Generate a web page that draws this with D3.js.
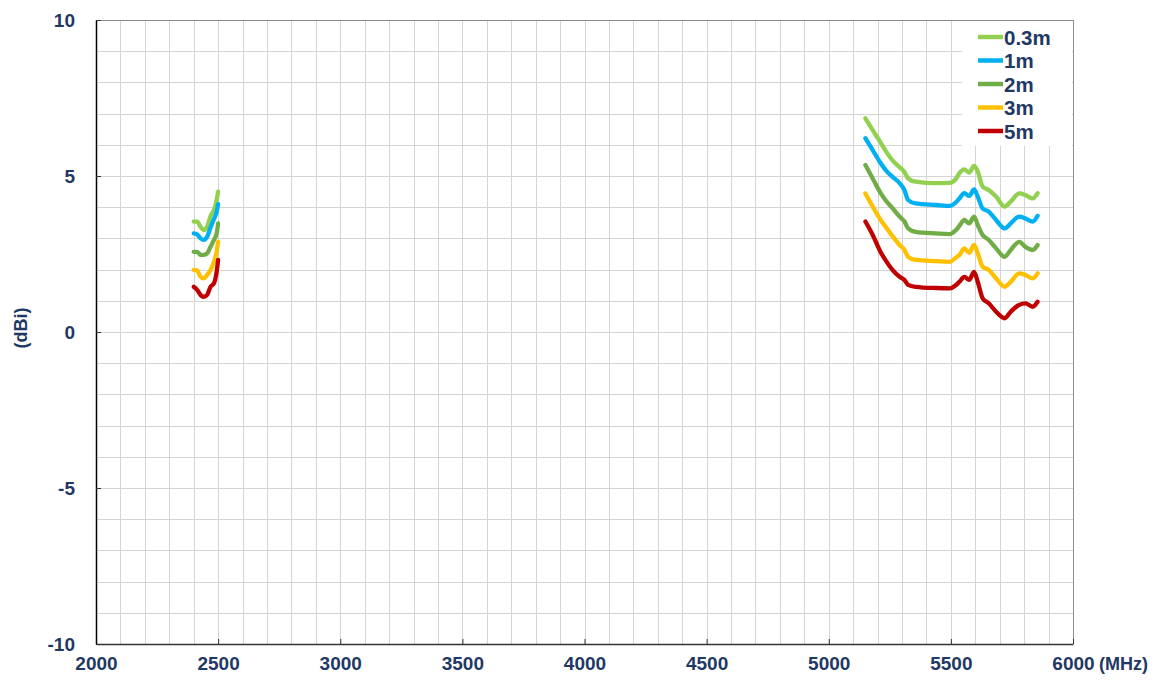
<!DOCTYPE html>
<meta charset="utf-8">
<html>
<head>
<title>Gain vs frequency</title>
<style>
  body { margin: 0; background: #fff; }
  text { font-family: "Liberation Sans", Arial, sans-serif; font-weight: bold; fill: #1f3864; }
</style>
</head>
<body>
<script src="https://d3js.org/d3.v7.min.js"></script>
<svg width="1157" height="684"></svg>
<script>
// frequencies (MHz)
var freq24 = [2400, 2414, 2428, 2441, 2455, 2469, 2483, 2494, 2500];
var freq5 = [5150, 5180, 5210, 5235, 5260, 5290, 5310, 5325, 5355, 5440, 5495, 5520, 5535,
             5555, 5575, 5595, 5610, 5630, 5655, 5685, 5720, 5745, 5780, 5805, 5835, 5855];

// gain (dBi) per distance
var g03_24 = [3.54, 3.54, 3.37, 3.27, 3.37, 3.72, 3.91, 4.23, 4.50];
var g1_24  = [3.16, 3.13, 3.00, 2.95, 3.05, 3.35, 3.62, 3.85, 4.10];
var g2_24  = [2.57, 2.57, 2.47, 2.47, 2.52, 2.73, 2.95, 3.16, 3.48];
var g3_24  = [1.99, 1.97, 1.77, 1.72, 1.83, 1.99, 2.25, 2.57, 2.89];
var g5_24  = [1.45, 1.35, 1.19, 1.13, 1.19, 1.45, 1.56, 1.93, 2.31];

var g03_5 = [6.85, 6.47, 6.10, 5.78, 5.51, 5.28, 5.13, 4.92, 4.82, 4.77, 4.78, 4.90, 5.09,
             5.21, 5.11, 5.32, 5.14, 4.66, 4.55, 4.34, 4.02, 4.18, 4.44, 4.39, 4.28, 4.45];
var g1_5  = [6.21, 5.83, 5.44, 5.17, 4.98, 4.77, 4.55, 4.23, 4.12, 4.07, 4.04, 4.15, 4.28,
             4.45, 4.36, 4.57, 4.34, 3.96, 3.86, 3.59, 3.32, 3.48, 3.70, 3.64, 3.54, 3.72];
var g2_5  = [5.35, 4.92, 4.48, 4.20, 3.98, 3.70, 3.54, 3.32, 3.21, 3.16, 3.14, 3.26, 3.40,
             3.59, 3.48, 3.70, 3.43, 3.11, 2.95, 2.68, 2.41, 2.63, 2.89, 2.73, 2.63, 2.79];
var g3_5  = [4.44, 4.02, 3.62, 3.35, 3.08, 2.79, 2.63, 2.41, 2.31, 2.27, 2.25, 2.38, 2.47,
             2.68, 2.54, 2.79, 2.52, 2.09, 1.99, 1.72, 1.45, 1.61, 1.88, 1.83, 1.72, 1.88];
var g5_5  = [3.54, 3.11, 2.60, 2.27, 2.00, 1.77, 1.67, 1.51, 1.45, 1.41, 1.40, 1.50, 1.61,
             1.77, 1.67, 1.93, 1.61, 1.08, 0.92, 0.65, 0.44, 0.65, 0.87, 0.92, 0.81, 0.97];

var seriesNames = ["0.3m", "1m", "2m", "3m", "5m"];
var seriesColors = ["#92d050", "#00b0f0", "#70ad47", "#ffc000", "#c00000"];
var band24 = [g03_24, g1_24, g2_24, g3_24, g5_24];
var band5 = [g03_5, g1_5, g2_5, g3_5, g5_5];

var xTicks = [2000, 2500, 3000, 3500, 4000, 4500, 5000, 5500, 6000];
var yTicks = [-10, -5, 0, 5, 10];

var svg = d3.select("svg");
var pLeft = 96, pRight = 1073, pTop = 20, pBottom = 644;

var x = d3.scaleLinear().domain([2000, 6000]).range([pLeft, pRight]);
var y = d3.scaleLinear().domain([-10, 10]).range([pBottom, pTop]);

// grid
var grid = svg.append("g").attr("stroke", "#d4d4d4").attr("stroke-width", 1);
grid.selectAll("line.v").data(d3.range(2100, 6000, 100)).enter().append("line")
    .attr("x1", function(d) { return Math.round(x(d)) + 0.5; })
    .attr("x2", function(d) { return Math.round(x(d)) + 0.5; })
    .attr("y1", pTop).attr("y2", pBottom);
grid.selectAll("line.h").data(d3.range(-9, 10, 1)).enter().append("line")
    .attr("y1", function(d) { return Math.round(y(d)) + 0.5; })
    .attr("y2", function(d) { return Math.round(y(d)) + 0.5; })
    .attr("x1", pLeft).attr("x2", pRight);

// frame top/right
svg.append("line").attr("x1", pLeft).attr("x2", pRight).attr("y1", pTop + 0.5).attr("y2", pTop + 0.5)
    .attr("stroke", "#8c8c8c");
svg.append("line").attr("x1", pRight + 0.5).attr("x2", pRight + 0.5).attr("y1", pTop).attr("y2", pBottom)
    .attr("stroke", "#8c8c8c");

// axes
var plain = function(d) { return String(d); };   // hyphen minus like the original

var xAxis = svg.append("g").attr("transform", "translate(0," + pBottom + ")")
    .call(d3.axisBottom(x).tickValues(xTicks).tickSizeInner(-5).tickSizeOuter(0).tickFormat(plain));
xAxis.select(".domain").attr("stroke", "#333").attr("stroke-width", 1.5);
xAxis.selectAll(".tick line").attr("stroke", "#333");
xAxis.selectAll(".tick text").attr("font-size", 19).attr("dy", "0").attr("y", 26)
    .attr("font-family", null).attr("fill", null);

var yAxis = svg.append("g").attr("transform", "translate(" + pLeft + ",0)")
    .call(d3.axisLeft(y).tickValues(yTicks).tickSizeInner(-5).tickSizeOuter(0).tickFormat(plain));
yAxis.select(".domain").attr("stroke", "#000").attr("stroke-width", 1.5);
yAxis.selectAll(".tick line").attr("stroke", "#333");
yAxis.selectAll(".tick text").attr("font-size", 19).attr("x", -21)
    .attr("font-family", null).attr("fill", null);

svg.append("text").attr("transform", "translate(27,328) rotate(-90)")
    .attr("text-anchor", "middle").attr("font-size", 18).text("(dBi)");
svg.append("text").attr("x", 1099).attr("y", 670).attr("font-size", 18).text("(MHz)");

// curves
var line = d3.line()
    .x(function(d) { return x(d[0]); })
    .y(function(d) { return y(d[1]); })
    .curve(d3.curveMonotoneX);

var plot = svg.append("g");
seriesNames.forEach(function(name, i) {
  [[freq24, band24[i]], [freq5, band5[i]]].forEach(function(b) {
    plot.append("path")
      .datum(d3.zip(b[0], b[1]))
      .attr("fill", "none")
      .attr("stroke", seriesColors[i])
      .attr("stroke-width", 4.3)
      .attr("stroke-linejoin", "round")
      .attr("stroke-linecap", "round")
      .attr("d", line);
  });
});

// legend
var legend = svg.append("g");
legend.append("rect").attr("x", 962).attr("y", 21).attr("width", 110).attr("height", 125).attr("fill", "#fff");
var item = legend.selectAll("g.item").data(seriesNames).enter().append("g")
    .attr("transform", function(d, i) { return "translate(978," + (37 + i * 23.5) + ")"; });
item.append("line").attr("x1", 0).attr("x2", 25)
    .attr("stroke", function(d, i) { return seriesColors[i]; }).attr("stroke-width", 4.5);
item.append("text").attr("x", 26).attr("y", 7.5).attr("font-size", 20.5).text(function(d) { return d; });
</script>
</body>
</html>
